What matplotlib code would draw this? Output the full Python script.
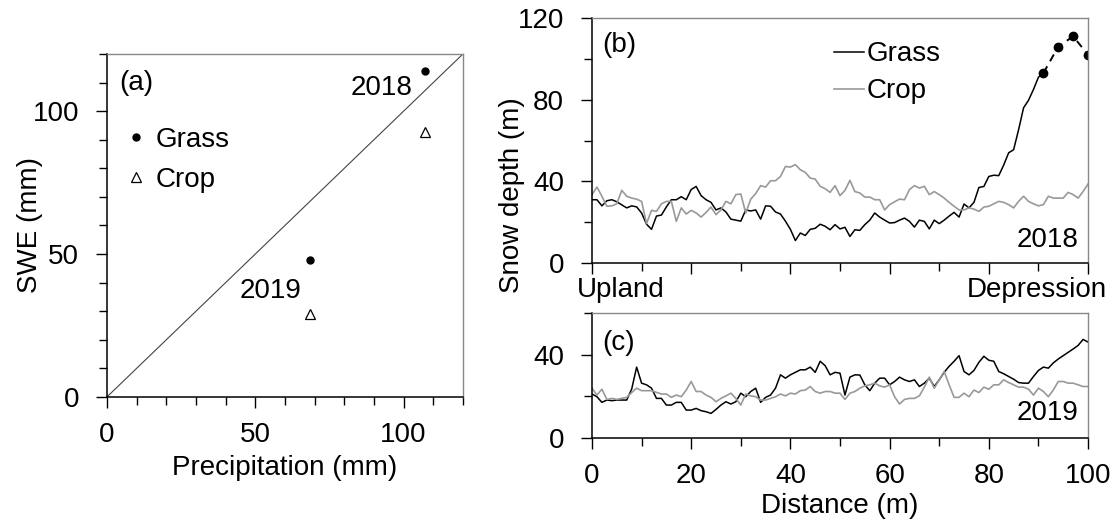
import matplotlib
matplotlib.use('Agg')
import matplotlib.pyplot as plt
from matplotlib.ticker import MultipleLocator
import numpy as np

plt.rcParams['font.family'] = ['Liberation Sans', 'DejaVu Sans']
FS = 20

# panel (a): SWE vs precipitation
precip_grass = [107.4, 68.6]
swe_grass = [114, 47.9]
precip_crop = [107.4, 68.6]
swe_crop = [92.7, 29]
year_labels = ['2018', '2019']
one_to_one = [0, 120]

# panel (b): snow depth 2018
grass18 = [31, 31, 28, 30.5, 31, 30, 28.5, 27, 28, 27.5,
           24.5, 19, 16.5, 23, 23.5, 27.5, 31, 31, 32.5, 31,
           36, 37.5, 33, 31, 29.7, 26, 27, 25, 21.5, 21,
           20.5, 26, 25.5, 26, 21.5, 28, 27.8, 25, 24, 20.5,
           16.5, 11, 14.7, 13.5, 16.5, 17, 19, 18, 16.3, 18.8,
           16.7, 17.5, 13, 16.3, 16, 18.8, 21, 24.5, 22.5, 21,
           19.6, 19.8, 21, 22, 20.4, 17.6, 21, 20.4, 16.7, 21,
           19.3, 21, 23, 24.8, 22.5, 28.9, 27, 29.7, 37, 37.5,
           42.4, 43, 42.8, 48, 54, 55.5, 65.3, 76, 79.7, 85,
           91, 93]
grass18_pt_x = [91, 94, 97, 100]
grass18_pt = [93, 106, 111, 102]
crop18 = [33.5, 37.2, 32.7, 27.8, 28, 29, 35.6, 32.7, 31.8, 31.3,
          30.2, 19.3, 25.8, 25.3, 29, 30.2, 30.2, 20.4, 27, 24,
          25.8, 24.5, 22.5, 24.8, 27.4, 23.7, 26, 30.2, 29, 33.5,
          33.8, 24.5, 31.3, 34, 37.9, 37.2, 40.3, 40.3, 42.4, 47.3,
          47, 48.2, 45.7, 44.4, 41.6, 41.1, 37.6, 36.4, 34.6, 37.9,
          33, 35.6, 40.5, 35, 34.3, 32.3, 32.3, 31, 31, 26,
          28.6, 30, 31.3, 31, 36, 37.9, 36.7, 37.6, 33.5, 35,
          33.5, 31.8, 29.7, 27.8, 26, 26, 27, 26.4, 25.3, 27.4,
          27.8, 29, 30.2, 29.7, 28.6, 27, 30.2, 32.7, 30.2, 29,
          28, 28.6, 32.7, 31.8, 31.8, 31.8, 34.6, 33.5, 31.8, 35,
          38.7]

# panel (c): snow depth 2019
grass19 = [21.1, 19.8, 17.1, 18.2, 17.9, 18.2, 18.2, 18.2, 23.4, 34,
           26.3, 25.5, 23.9, 19, 19, 15.8, 15.8, 17.1, 17.1, 13.4,
           13.4, 14.2, 13.1, 12.6, 11.8, 13.7, 15.8, 17.4, 16.3, 17.4,
           21.5, 19.8, 22.3, 23.9, 17.1, 19.5, 20.6, 23.9, 30.3, 28.7,
           30.3, 31.5, 32.7, 32.7, 34, 31.5, 36.8, 34.7, 30.3, 31.5,
           31.1, 20.6, 29.2, 30.3, 30.2, 25.5, 22.7, 26.3, 28.7, 28.7,
           25.5, 27.1, 29.2, 27.9, 27.1, 27.9, 24.7, 26.3, 28.7, 24.7,
           27.9, 31.5, 34.4, 36.8, 39.5, 31.9, 30.3, 32.4, 36.3, 39.2,
           37.3, 36.8, 31.9, 30.8, 29.5, 28.2, 26.6, 26.3, 26.3, 29.5,
           32.4, 34, 33.5, 36, 37.9, 39.5, 41.1, 42.7, 44.4, 47.3,
           46]
crop19 = [23.9, 20.6, 23.4, 18.5, 19, 18.5, 19, 19.5, 21.8, 23.9,
          22.7, 22.7, 22.7, 21.9, 21.1, 21.1, 19.5, 20.6, 19.8, 23,
          27.1, 22.3, 22.3, 20.6, 19.5, 17.4, 19, 20.2, 21.5, 19,
          15.8, 21.1, 20.2, 19.8, 18.2, 18.2, 19, 19.8, 21.1, 20.2,
          21.5, 21.1, 22.7, 23, 24.7, 22.3, 21.5, 22.3, 22.3, 21.5,
          21.5, 18.5, 21.5, 22.3, 23.9, 25, 25.5, 26.3, 25, 24.4,
          25.5, 19.8, 16.3, 18.5, 19, 19, 20.2, 24.4, 29.2, 23.9,
          27.9, 31.9, 25.5, 19.5, 19.5, 21.5, 19.8, 23, 21.8, 24.4,
          23.4, 25.5, 25.5, 27.9, 26.6, 25.5, 24.4, 24.4, 23.4, 20.6,
          23.9, 22.3, 19.8, 23, 27.1, 27.1, 26.3, 26.3, 25.5, 24.7,
          24.7]

dist18 = np.arange(len(grass18))
dist = np.arange(len(crop18))

SPINE_GRAY = '#888888'
CROP_GRAY = '#999999'


def style_axes(ax):
    for s in ['left', 'bottom']:
        ax.spines[s].set_color('black')
        ax.spines[s].set_linewidth(1.1)
    for s in ['top', 'right']:
        ax.spines[s].set_color(SPINE_GRAY)
        ax.spines[s].set_linewidth(1.0)
    ax.tick_params(which='both', direction='out', top=False, right=False,
                   labelsize=FS, width=1.0)
    ax.tick_params(which='major', length=8)
    ax.tick_params(which='minor', length=6)
    ax.tick_params(axis='x', pad=10)
    ax.tick_params(axis='y', pad=12)


fig = plt.figure(figsize=(11.18, 5.25), dpi=100)

# (a)
ax_a = fig.add_axes([0.0957, 0.244, 0.3183, 0.653])
ax_a.plot(one_to_one, one_to_one, color='#444444', lw=0.8)
ax_a.plot(precip_grass, swe_grass, 'o', color='black', ms=5, label='Grass')
ax_a.plot(precip_crop, swe_crop, '^', mfc='white', mec='black', mew=0.9, ms=7.5, label='Crop')
ax_a.text(103, 108, year_labels[0], ha='right', va='center', fontsize=FS)
ax_a.text(65.7, 37, year_labels[1], ha='right', va='center', fontsize=FS)
ax_a.text(0.035, 0.915, '(a)', transform=ax_a.transAxes, ha='left', va='center', fontsize=FS)
ax_a.legend(loc='upper left', bbox_to_anchor=(0.02, 0.82), frameon=False, fontsize=FS,
            handlelength=0.8, handletextpad=0.3, labelspacing=0.5, borderaxespad=0)
ax_a.set_xlim(0, 120)
ax_a.set_ylim(0, 120)
ax_a.xaxis.set_major_locator(MultipleLocator(50))
ax_a.xaxis.set_minor_locator(MultipleLocator(10))
ax_a.yaxis.set_major_locator(MultipleLocator(50))
ax_a.yaxis.set_minor_locator(MultipleLocator(10))
style_axes(ax_a)
ax_a.set_xlabel('Precipitation (mm)', fontsize=FS)
ax_a.set_ylabel('SWE (mm)', fontsize=FS)
ax_a.xaxis.set_label_coords(0.5, -0.17)
ax_a.yaxis.set_label_coords(-0.18, 0.5)

# (b)
ax_b = fig.add_axes([0.5295, 0.499, 0.4437, 0.4667])
ax_b.plot(dist18, grass18, color='black', lw=1.1, label='Grass')
ax_b.plot(dist, crop18, color=CROP_GRAY, lw=1.2, label='Crop')
ax_b.plot(grass18_pt_x, grass18_pt, color='black', lw=1.4, ls=(0, (4, 3)),
          marker='o', ms=6)
ax_b.set_xlim(0, 100)
ax_b.set_ylim(0, 120)
ax_b.xaxis.set_major_locator(MultipleLocator(20))
ax_b.xaxis.set_minor_locator(MultipleLocator(10))
ax_b.yaxis.set_major_locator(MultipleLocator(40))
ax_b.yaxis.set_minor_locator(MultipleLocator(20))
style_axes(ax_b)
ax_b.tick_params(axis='x', which='both', labelbottom=False)
ax_b.text(0.02, 0.89, '(b)', transform=ax_b.transAxes, ha='left', va='center', fontsize=FS)
ax_b.text(0.98, 0.094, '2018', transform=ax_b.transAxes, ha='right', va='center', fontsize=FS)
ax_b.text(-0.03, -0.11, 'Upland', transform=ax_b.transAxes, ha='left', va='center', fontsize=FS)
ax_b.text(1.038, -0.11, 'Depression', transform=ax_b.transAxes, ha='right', va='center', fontsize=FS)
ax_b.legend(loc='upper left', bbox_to_anchor=(0.465, 0.95), frameon=False, fontsize=FS,
            handlelength=1.1, handletextpad=0.1, labelspacing=0.4, borderaxespad=0)

# (c)
ax_c = fig.add_axes([0.5295, 0.1657, 0.4437, 0.2383])
ax_c.plot(dist, grass19, color='black', lw=1.1)
ax_c.plot(dist, crop19, color=CROP_GRAY, lw=1.2)
ax_c.set_xlim(0, 100)
ax_c.set_ylim(0, 60)
ax_c.xaxis.set_major_locator(MultipleLocator(20))
ax_c.xaxis.set_minor_locator(MultipleLocator(10))
ax_c.yaxis.set_major_locator(MultipleLocator(40))
ax_c.yaxis.set_minor_locator(MultipleLocator(20))
style_axes(ax_c)
ax_c.text(0.02, 0.76, '(c)', transform=ax_c.transAxes, ha='left', va='center', fontsize=FS)
ax_c.text(0.98, 0.2, '2019', transform=ax_c.transAxes, ha='right', va='center', fontsize=FS)
ax_c.set_xlabel('Distance (m)', fontsize=FS)
ax_c.xaxis.set_label_coords(0.5, -0.44)

fig.text(512 / 1118, 1 - 195 / 525, 'Snow depth (m)', rotation=90, ha='center', va='center',
         fontsize=FS)

fig.savefig('out.png', dpi=100)
